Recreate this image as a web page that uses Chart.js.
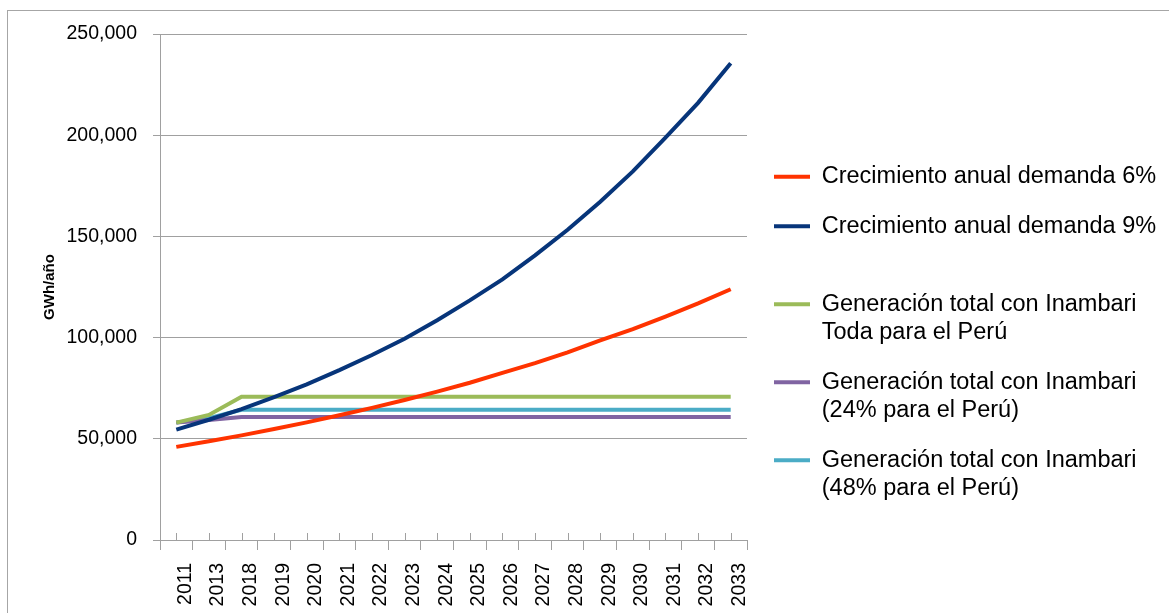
<!DOCTYPE html>
<html>
<head>
<meta charset="utf-8">
<script src="https://cdn.jsdelivr.net/npm/chart.js@4/dist/chart.umd.min.js"></script>
<style>
    body { margin: 0; background: #fff; overflow: hidden; }
    #frame { position: absolute; left: 7px; top: 10px; width: 1300px; height: 700px; border: 1px solid #a6a6a6; }
    #myChart { position: absolute; left: 0; top: 0; }
</style>
</head>
<body>
<div id="frame"></div>
<canvas id="myChart" width="1169" height="613"></canvas>
<script>
const years = ['2011', '2013', '2018', '2019', '2020', '2021', '2022', '2023', '2024',
    '2025', '2026', '2027', '2028', '2029', '2030', '2031', '2032', '2033'];

const demanda6 = [46000, 48800, 51700, 54800, 58100, 61600, 65300, 69200, 73300,
    77700, 82600, 87400, 92700, 98600, 104200, 110400, 116900, 123900];
const demanda9 = [54500, 59400, 64700, 70600, 76900, 83900, 91400, 99400, 108600,
    118400, 128800, 140600, 153300, 167100, 182100, 198800, 216000, 235600];
const todaPeru = [58000, 61800, 70800, 70800, 70800, 70800, 70800, 70800, 70800,
    70800, 70800, 70800, 70800, 70800, 70800, 70800, 70800, 70800];
const peru24 = [58000, 59300, 60800, 60800, 60800, 60800, 60800, 60800, 60800,
    60800, 60800, 60800, 60800, 60800, 60800, 60800, 60800, 60800];
const peru48 = [58000, 60200, 64300, 64300, 64300, 64300, 64300, 64300, 64300,
    64300, 64300, 64300, 64300, 64300, 64300, 64300, 64300, 64300];

const seriesNames = [
    'Crecimiento anual demanda 6%',
    'Crecimiento anual demanda 9%',
    'Generación total con Inambari Toda para el Perú',
    'Generación total con Inambari (24% para el Perú)',
    'Generación total con Inambari (48% para el Perú)'
];
// how the legend breaks each name into lines (blank line keeps the spacing)
const legendLines = [
    ['Crecimiento anual demanda 6%'],
    ['Crecimiento anual demanda 9%', ''],
    ['Generación total con Inambari', 'Toda para el Perú'],
    ['Generación total con Inambari', '(24% para el Perú)'],
    ['Generación total con Inambari', '(48% para el Perú)']
];
const colors = ['#ff3300', '#07357a', '#9bbb59', '#8064a2', '#4bacc6'];

const yTicks = [0, 50000, 100000, 150000, 200000, 250000];

const gridColor = '#a0a0a0';
const fontFamily = "'Liberation Sans', Arial, sans-serif";

// small ticks pointing up from the x axis at each point
const upTicks = {
    id: 'upTicks',
    beforeDatasetsDraw(chart) {
        const xs = chart.scales.x;
        const ctx = chart.ctx;
        const y0 = chart.chartArea.bottom;
        ctx.save();
        ctx.strokeStyle = gridColor;
        ctx.lineWidth = 1;
        years.forEach((_, i) => {
            const px = Math.round(xs.getPixelForValue(i)) + 0.5;
            ctx.beginPath();
            ctx.moveTo(px, y0);
            ctx.lineTo(px, y0 - 7);
            ctx.stroke();
        });
        ctx.restore();
    }
};

// put the legend where the original has it
const legendPlace = {
    id: 'legendPlace',
    afterLayout(chart) {
        const lg = chart.legend;
        const h = lg.bottom - lg.top;
        lg.left = 753;
        lg.right = 1169;
        lg.width = lg.right - lg.left;
        lg.top = 144;
        lg.bottom = lg.top + h;
    }
};

const allSeries = [demanda6, demanda9, todaPeru, peru24, peru48];

var ctx = document.getElementById('myChart').getContext('2d');
var myChart = new Chart(ctx, {
    type: 'line',
    data: {
        labels: years,
        datasets: allSeries.map((data, i) => ({
            label: seriesNames[i],
            data: data,
            borderColor: colors[i],
            backgroundColor: colors[i],
            borderWidth: 4,
            pointRadius: 0,
            tension: 0,
            fill: false,
            order: i === 0 || i === 1 ? 0 : 1
        }))
    },
    options: {
        responsive: false,
        animation: false,
        layout: { padding: { left: 37, top: 34, bottom: 0, right: 42 } },
        plugins: {
            tooltip: { enabled: false },
            legend: {
                position: 'right',
                align: 'start',
                maxWidth: 380,
                labels: {
                    usePointStyle: true,
                    pointStyle: 'line',
                    pointStyleWidth: 36,
                    padding: 21,
                    color: '#000',
                    font: { family: fontFamily, size: 23.5, lineHeight: 1.213 },
                    generateLabels(chart) {
                        const items = Chart.defaults.plugins.legend.labels.generateLabels(chart);
                        items.forEach((it, i) => {
                            it.text = legendLines[i];
                            it.lineWidth = 4;
                            it.pointStyle = 'line';
                        });
                        return items;
                    }
                }
            }
        },
        scales: {
            x: {
                offset: true,
                afterFit(scale) {
                    scale.paddingLeft = 0;
                    scale.paddingRight = 0;
                    scale.height = 73;
                },
                grid: {
                    offset: true,
                    drawOnChartArea: false,
                    tickLength: 10,
                    color: gridColor
                },
                border: { color: gridColor },
                ticks: {
                    autoSkip: false,
                    maxRotation: 90,
                    minRotation: 90,
                    labelOffset: 9,
                    padding: 13,
                    color: '#000',
                    font: { family: fontFamily, size: 19.5 }
                }
            },
            y: {
                min: 0,
                max: 250000,
                afterBuildTicks(scale) {
                    scale.ticks = yTicks.map(v => ({ value: v }));
                },
                afterFit(scale) {
                    scale.width = 123;
                },
                grid: { color: gridColor, tickLength: 7 },
                border: { color: gridColor },
                ticks: {
                    padding: 16,
                    color: '#000',
                    font: { family: fontFamily, size: 19.5 },
                    callback: v => v.toLocaleString('en-US')
                },
                title: {
                    display: true,
                    text: 'GWh/año',
                    color: '#000',
                    font: { family: fontFamily, size: 15, weight: 'bold' },
                    padding: { top: 4, bottom: 8 }
                }
            }
        }
    },
    plugins: [upTicks, legendPlace]
});
</script>
</body>
</html>
